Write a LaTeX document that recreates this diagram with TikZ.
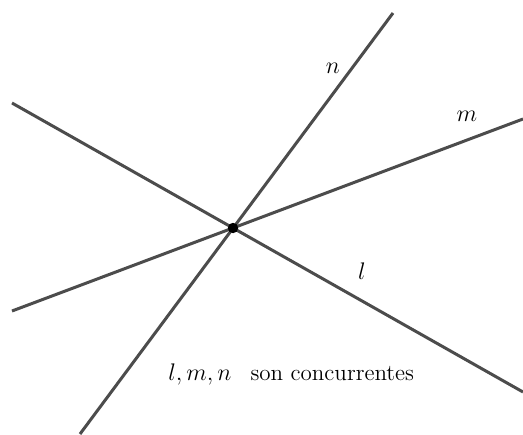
\documentclass[tikz,border=0pt]{standalone}
\begin{document}
\begin{tikzpicture}[x=0.5pt,y=-0.5pt,
  ln/.style={draw=black!70, line width=1.5pt},
  lbl/.style={font=\fontsize{11.5}{13}\selectfont, inner sep=0pt}]
\useasboundingbox (0,0) rectangle (523,434);
\coordinate (P) at (233,228);
\coordinate (l1) at (12,103);
\coordinate (l2) at (523,392);
\coordinate (m1) at (12,311);
\coordinate (m2) at (523,119);
\coordinate (n1) at (80,434);
\coordinate (n2) at (393,13);
\draw[ln] (l1) -- (l2);
\draw[ln] (m1) -- (m2);
\draw[ln] (n1) -- (n2);
\fill (P) circle (2.6pt);
\node[lbl] (ln) at (333,68) {$n$};
\node[lbl] (lm) at (467,116) {$m$};
\node[lbl] (ll) at (362,271) {$l$};
\node[lbl, anchor=base west] (txt) at (168,380) {$l, m, n$\hspace{9.5pt}son concurrentes};
\end{tikzpicture}
\end{document}
